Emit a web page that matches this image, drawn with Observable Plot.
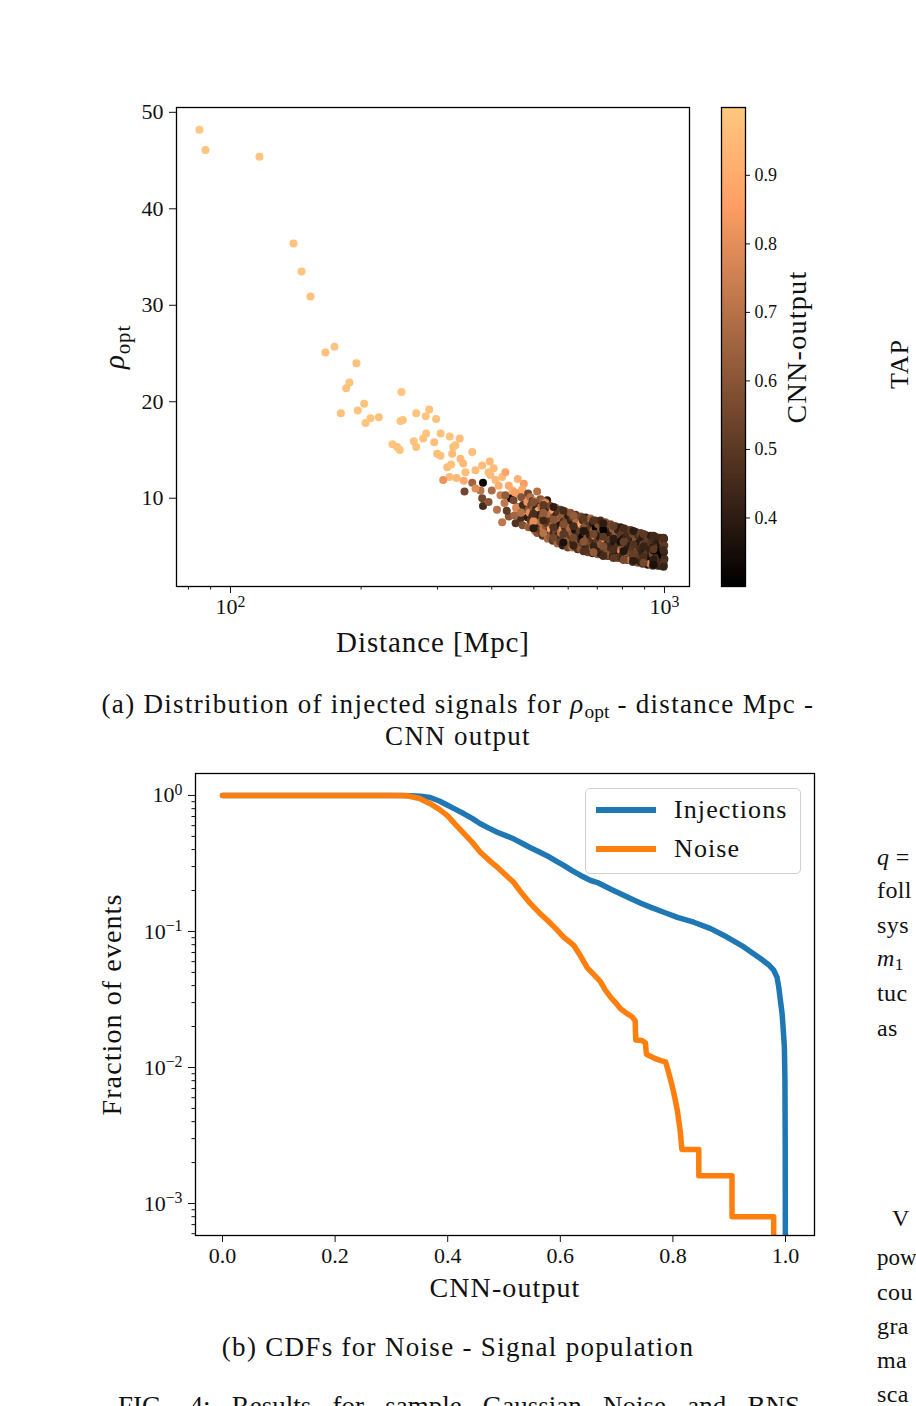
<!DOCTYPE html>
<html>
<head>
<meta charset="utf-8">
<script src="https://cdn.jsdelivr.net/npm/d3@7"></script>
<script src="https://cdn.jsdelivr.net/npm/@observablehq/plot@0.6"></script>
<style>
  html, body { margin: 0; padding: 0; background: #fff; }
  body { position: relative; width: 916px; height: 1406px; overflow: hidden;
         font-family: "Liberation Serif", "DejaVu Serif", serif; color: #111; }
  .abs { position: absolute; }
  .caption { position: absolute; left: 0; width: 916px; text-align: center;
             font-size: 27px; line-height: 32px; letter-spacing: 1.3px; white-space: nowrap; }
  .side { position: absolute; left: 877px; font-size: 24px; line-height: 32px; letter-spacing: 0.4px; white-space: nowrap; }
  .legend { position: absolute; border: 1px solid #d0d0d0; border-radius: 5px; background: rgba(255,255,255,0.8); }
  .swatch { position: absolute; height: 6px; width: 60px; }
  .legtext { position: absolute; font-size: 26px; line-height: 30px; letter-spacing: 1.1px; white-space: nowrap; }
  sub { font-size: 0.72em; vertical-align: -0.25em; line-height: 0; letter-spacing: 0; }
  .fig { position: absolute; left: 118px; width: 682px; top: 1390px; font-size: 27px; line-height: 32px;
         text-align: justify; text-align-last: justify; white-space: nowrap; }
</style>
</head>
<body>
<div id="scatter" class="abs" style="left:0;top:0"></div>
<div id="colorbar" class="abs" style="left:700px;top:0"></div>
<div id="cdf" class="abs" style="left:0;top:700px"></div>

<div class="caption" style="top:688px">(a) Distribution of injected signals for <i>ρ</i><sub>opt</sub> - distance Mpc -<br>CNN output</div>
<div class="caption" style="top:1331px">(b) CDFs for Noise - Signal population</div>
<div class="fig">FIG. 4: Results for sample Gaussian Noise and BNS</div>

<div class="abs" style="left:860px;top:351px;width:80px;text-align:center;font-size:26px;line-height:26px;letter-spacing:1px;transform:rotate(-90deg);transform-origin:40px 13px;">TAP</div>

<div class="legend" style="left:585px;top:788px;width:214px;height:84px">
  <div class="swatch" style="left:10px;top:18px;background:#1f77b4"></div>
  <div class="legtext" style="left:88px;top:6px">Injections</div>
  <div class="swatch" style="left:10px;top:57px;background:#ff7f0e"></div>
  <div class="legtext" style="left:88px;top:45px">Noise</div>
</div>

<div class="side" style="top:841px"><i>q</i> =</div>
<div class="side" style="top:874px">foll</div>
<div class="side" style="top:909px">sys</div>
<div class="side" style="top:942px"><i>m</i><sub>1</sub></div>
<div class="side" style="top:977px">tuc</div>
<div class="side" style="top:1012px">as</div>
<div class="side" style="top:1202px;left:892px">V</div>
<div class="side" style="top:1242px;font-size:23px;letter-spacing:0">pow</div>
<div class="side" style="top:1276px">cou</div>
<div class="side" style="top:1310px">gra</div>
<div class="side" style="top:1344px">ma</div>
<div class="side" style="top:1378px">sca</div>

<script>
// Injected signals: [luminosity distance (Mpc), optimal SNR rho_opt, CNN output]
const injectionPoints = [
  [84.8,48.2,0.999],[87.6,46.1,0.99],[116.6,45.4,0.99],[139.7,36.4,0.98],[145.8,33.5,0.99],
  [152.9,30.9,0.98],[165.5,25.1,0.98],[173.6,25.7,0.99],[195.1,24.0,0.98],[188.0,22.0,0.99],
  [184.8,21.4,0.98],[247.7,21.0,0.99],[203.3,19.8,0.98],[196.5,19.1,0.99],[179.6,18.8,0.98],
  [267.9,18.8,0.99],[287.1,19.2,0.98],[281.8,18.5,0.99],[297.8,18.2,0.98],[210.2,18.3,0.99],
  [219.7,18.4,0.98],[204.7,17.8,0.99],[249.5,18.1,0.98],[246.5,18.0,0.99],[304.9,16.7,0.98],
  [282.4,16.7,0.99],[278.0,16.2,0.98],[264.5,15.9,0.99],[267.9,15.3,0.98],[294.8,15.8,0.97],
  [320.1,16.4,0.98],[236.2,15.6,0.99],[242.2,15.3,0.98],[245.5,15.0,0.99],[299.4,14.6,0.97],
  [304.8,14.4,0.98],[326.0,15.3,0.97],[324.3,14.6,0.96],[315.8,13.2,0.97],[322.5,13.5,0.98],
  [319.6,12.2,0.96],[309.1,11.9,0.82],[337.5,16.2,0.97],[329.9,15.5,0.98],[338.8,14.1,0.96],
  [360.6,14.8,0.97],[343.7,13.6,0.95],[347.9,12.7,0.97],[380.2,13.4,0.96],[395.8,13.8,0.95],
  [366.9,12.9,0.96],[344.8,11.8,0.9],[381.8,11.6,0.32],[360.6,11.6,0.65],[346.1,10.7,0.55],
  [376.7,10.8,0.7],[397.2,12.4,0.95],[408.0,11.9,0.95],[422.7,12.2,0.97],[437.7,11.3,0.9],
  [459.2,12.0,0.93],[474.1,11.5,0.85],[441.7,10.0,0.33],[380.2,10.0,0.55],[381.8,9.2,0.45],
  [393.3,9.6,0.6],[411.3,8.8,0.7],[422.7,7.5,0.72],[437.7,8.1,0.6],[465.8,7.9,0.45],
  [491.2,7.4,0.75],[501.7,6.8,0.32],[482.7,8.8,0.55],[518.0,8.8,0.5],[536.6,9.8,0.4],
  [555.9,8.9,0.6],[566.0,7.7,0.55],[457.7,9.1,0.62],[491.2,10.0,0.65],[508.9,10.7,0.7],
  [393,12.7,0.97],[404,13.1,0.96],[415,11.3,0.92],[430,12.7,0.88],[446,10.8,0.9],
  [462,10.5,0.78],[485,9.8,0.8],[419,10.3,0.75],[400,10.8,0.68],[367,11.0,0.8],[332,12.1,0.95],
  [430,10.3,0.62],[428,9.5,0.72],[433,8.7,0.5],
  [452,10.6,0.85],[449,9.8,0.55],[455,9.0,0.78],[451,8.2,0.66],[454,7.4,0.48],
  [470,10.9,0.9],[468,10.1,0.6],[472,9.3,0.45],[467,8.5,0.7],[471,7.2,0.58],
  [485,10.5,0.55],[483,9.6,0.82],[487,8.8,0.62],[484,8.0,0.4],[486,7.0,0.66],
  [491,10.1,0.7],[493,9.3,0.55],[489,8.5,0.8],[492,7.7,0.5],[490,7.0,0.62],
  [497,9.7,0.5],[499,8.9,0.62],[496,8.1,0.44],[498,7.3,0.7],
  [504,9.7,0.88],[506,8.9,0.45],[502,8.1,0.66],[505,7.3,0.58],[503,6.6,0.75],
  [511,9.5,0.45],[513,8.7,0.9],[510,7.9,0.55],[512,7.1,0.4],[509,6.4,0.6],
  [518,9.9,0.6],[520,9.1,0.72],[516,8.3,0.4],[519,7.5,0.68],[517,6.7,0.52],
  [525,9.7,0.65],[527,8.9,0.48],[523,8.1,0.58],[526,6.9,0.72],[524,6.1,0.5],
  [532,9.5,0.78],[534,8.7,0.5],[530,7.9,0.85],[533,7.1,0.6],[531,6.3,0.44],
  [539,9.0,0.42],[541,8.2,0.65],[537,7.4,0.52],[540,6.5,0.4],[538,5.8,0.68],
  [546,9.2,0.55],[548,8.4,0.7],[544,7.6,0.48],[547,6.8,0.9],[545,6.0,0.62],
  [554,8.8,0.85],[556,8.0,0.55],[552,7.2,0.62],[555,6.4,0.45],[553,5.6,0.5],
  [561,9.0,0.66],[563,8.2,0.42],[559,7.4,0.74],[562,6.6,0.55],[560,5.8,0.6],
  [568,8.6,0.48],[570,7.8,0.7],[566,7.0,0.55],[569,6.1,0.4],[567,5.3,0.66],
  [576,8.8,0.5],[578,8.0,0.62],[574,7.2,0.38],[577,6.4,0.7],[575,5.5,0.52],
  [584,8.4,0.62],[586,7.6,0.45],[582,6.8,0.8],[585,5.9,0.52],[583,5.1,0.4],
  [592,8.6,0.72],[594,7.8,0.55],[590,7.0,0.45],[593,6.2,0.82],[591,5.3,0.48],
  [600,8.2,0.4],[602,7.4,0.58],[598,6.6,0.5],[601,5.7,0.65],[599,4.9,0.55],
  [607,8.5,0.6],[609,7.7,0.42],[605,6.9,0.66],[608,6.1,0.5],[606,5.1,0.58],
  [615,8.0,0.52],[617,7.2,0.38],[613,6.4,0.62],[616,5.5,0.45],[614,4.9,0.7],
  [624,8.3,0.48],[626,7.5,0.7],[622,6.7,0.35],[625,5.9,0.62],[623,5.0,0.45],
  [632,7.9,0.68],[634,7.0,0.5],[630,6.2,0.42],[633,5.4,0.58],[631,4.7,0.48],
  [641,8.1,0.55],[643,7.3,0.88],[639,6.5,0.5],[642,5.7,0.42],[640,4.8,0.6],
  [649,7.7,0.45],[651,6.9,0.55],[647,6.0,0.32],[650,5.2,0.5],[648,4.6,0.62],
  [658,8.0,0.42],[660,7.2,0.6],[656,6.4,0.45],[659,5.6,0.7],[657,4.7,0.38],
  [667,7.6,0.5],[669,6.7,0.42],[665,5.9,0.6],[668,5.0,0.46],[666,4.4,0.55],
  [675,7.9,0.65],[677,7.0,0.5],[673,6.2,0.4],[676,5.4,0.55],[674,4.6,0.48],
  [684,7.4,0.4],[686,6.6,0.62],[682,5.8,0.48],[685,4.9,0.82],[683,4.3,0.44],
  [693,7.7,0.52],[695,6.9,0.32],[691,6.1,0.78],[694,5.3,0.44],[692,4.5,0.55],
  [703,7.3,0.58],[705,6.4,0.45],[701,5.6,0.5],[704,4.8,0.4],[702,4.2,0.6],
  [712,7.7,0.45],[714,6.8,0.58],[710,6.0,0.4],[713,5.2,0.62],[711,4.3,0.42],
  [722,7.1,0.44],[724,6.3,0.52],[720,5.5,0.6],[723,4.6,0.45],[721,4.1,0.38],
  [731,7.5,0.6],[733,6.6,0.45],[729,5.8,0.85],[732,5.0,0.38],[730,4.2,0.5],
  [741,7.0,0.5],[743,6.1,0.35],[739,5.3,0.45],[742,4.5,0.58],[740,4.0,0.48],
  [751,7.3,0.55],[753,6.5,0.4],[749,5.7,0.52],[752,4.9,0.45],[750,4.1,0.6],
  [761,6.8,0.62],[763,6.0,0.48],[759,5.2,0.42],[762,4.4,0.5],[760,3.9,0.4],
  [771,7.1,0.48],[773,6.3,0.62],[769,5.5,0.36],[772,4.7,0.5],[770,4.0,0.42],
  [781,6.7,0.42],[783,5.9,0.55],[779,5.0,0.48],[782,4.3,0.4],[780,3.8,0.56],
  [792,7.0,0.4],[794,6.2,0.5],[790,5.4,0.45],[793,4.6,0.8],[791,3.9,0.48],
  [802,6.6,0.5],[804,5.8,0.38],[800,4.9,0.6],[803,4.2,0.45],[801,3.7,0.42],
  [813,6.8,0.58],[815,6.0,0.42],[811,5.2,0.55],[814,4.5,0.38],[812,3.8,0.5],
  [824,6.4,0.45],[826,5.6,0.52],[822,4.8,0.4],[825,4.0,0.62],[823,3.6,0.46],
  [835,6.7,0.5],[837,5.9,0.45],[833,5.1,0.4],[836,4.3,0.55],[834,3.6,0.72],
  [846,6.3,0.55],[848,5.5,0.42],[844,4.7,0.5],[847,3.9,0.44],[845,3.4,0.5],
  [858,6.5,0.42],[860,5.7,0.6],[856,4.9,0.48],[859,4.2,0.36],[857,3.5,0.45],
  [869,6.1,0.48],[871,5.3,0.36],[867,4.6,0.56],[870,3.8,0.48],[868,3.3,0.62],
  [881,6.4,0.52],[883,5.6,0.4],[879,4.8,0.45],[882,4.1,0.5],[880,3.4,0.42],
  [892,6.0,0.4],[894,5.2,0.55],[890,4.4,0.42],[893,3.7,0.5],[891,3.2,0.45],
  [904,6.2,0.45],[906,5.4,0.5],[902,4.7,0.38],[905,4.0,0.58],[903,3.3,0.4],
  [916,5.9,0.52],[918,5.0,0.44],[914,4.3,0.5],[917,3.6,0.4],[915,3.1,0.38],
  [929,6.1,0.4],[931,5.3,0.48],[927,4.6,0.42],[930,3.9,0.35],[928,3.2,0.78],
  [941,5.8,0.45],[943,4.9,0.38],[939,4.2,0.55],[942,3.5,0.44],[940,3.0,0.5],
  [954,6.0,0.5],[956,5.2,0.42],[952,4.5,0.46],[955,3.8,0.4],[953,3.1,0.44],
  [966,5.7,0.4],[968,4.9,0.5],[964,4.1,0.44],[967,3.4,0.52],[965,3.0,0.46],
  [979,5.9,0.44],[981,5.2,0.38],[977,4.5,0.32],[980,3.8,0.48],[978,3.0,0.42],
  [990,5.5,0.5],[992,4.8,0.42],[988,4.1,0.3],[991,3.4,0.4],[989,3.1,0.48],
  [998,5.8,0.42],[999,5.1,0.5],[997,4.4,0.4],[1000,3.7,0.45],[996,3.0,0.4],
  [944,4.6,0.31],[723,6.7,0.31],[792,5.5,0.35],
  [499,9.6,0.58],[499,8.4,0.46],[499,7.6,0.8],[499,6.9,0.4],
  [526,9.3,0.5],[526,8.5,0.62],[526,7.7,0.44],[526,6.4,0.7],
  [555,9.1,0.4],[555,7.8,0.6],[555,7.0,0.48],[555,5.9,0.55],
  [585,8.7,0.45],[585,7.3,0.58],[585,6.3,0.5],[585,5.4,0.36],
  [617,8.2,0.62],[617,7.1,0.45],[617,5.9,0.55],[617,5.1,0.42],
  [651,7.9,0.5],[651,6.6,0.38],[651,5.5,0.6],[651,4.5,0.48],
  [686,7.7,0.48],[686,6.3,0.55],[686,5.0,0.42],[686,4.4,0.62],
  [723,7.4,0.4],[723,6.0,0.5],[723,5.0,0.58],[723,4.0,0.45],
  [763,7.1,0.52],[763,5.8,0.4],[763,4.7,0.46],[763,3.8,0.5],
  [805,6.9,0.45],[805,5.5,0.52],[805,4.5,0.38],[805,3.6,0.56],
  [848,6.6,0.4],[848,5.2,0.48],[848,4.2,0.52],[848,3.5,0.4],
  [895,6.3,0.5],[895,5.0,0.42],[895,3.9,0.46],[895,3.3,0.55],
  [943,6.1,0.44],[943,4.7,0.5],[943,3.6,0.4],[943,3.1,0.36],
  [995,5.9,0.46],[995,4.6,0.44],[995,3.3,0.48],[995,2.9,0.42]
];

// Survival fractions (fraction of events with CNN output above threshold)
const injectionCdf = [
  [0.0,1.0],[0.32,1.0],[0.334,0.995],[0.352,0.985],[0.369,0.965],[0.385,0.91],[0.399,0.85],
  [0.414,0.79],[0.429,0.733],[0.444,0.675],[0.458,0.619],[0.473,0.575],[0.488,0.537],
  [0.503,0.507],[0.517,0.48],[0.532,0.445],[0.547,0.413],[0.562,0.385],[0.577,0.359],
  [0.592,0.33],[0.606,0.306],[0.621,0.28],[0.636,0.258],[0.654,0.237],[0.666,0.229],
  [0.689,0.205],[0.719,0.179],[0.742,0.162],[0.760,0.151],[0.785,0.138],[0.808,0.127],
  [0.837,0.117],[0.867,0.105],[0.896,0.091],[0.926,0.077],[0.956,0.063],[0.970,0.057],
  [0.979,0.052],[0.985,0.046],[0.988,0.039],[0.991,0.031],[0.994,0.0248],[0.996,0.019],
  [0.998,0.0141],[0.999,0.008],[0.9995,0.0026],[1.0,0.0001]
];
const noiseCdf = [
  [0.0,1.0],[0.30,1.0],[0.328,0.995],[0.35,0.95],[0.369,0.87],[0.385,0.79],[0.399,0.713],
  [0.414,0.61],[0.429,0.523],[0.444,0.45],[0.458,0.383],[0.473,0.335],[0.488,0.297],
  [0.503,0.26],[0.517,0.23],[0.532,0.19],[0.547,0.16],[0.562,0.138],[0.577,0.121],
  [0.592,0.105],[0.606,0.091],[0.624,0.079],[0.636,0.066],[0.648,0.054],[0.660,0.048],
  [0.671,0.043],[0.680,0.037],[0.689,0.033],[0.698,0.030],[0.707,0.027],[0.718,0.025],
  [0.728,0.0235],[0.733,0.022],[0.734,0.0159],[0.745,0.0158],[0.751,0.0152],[0.753,0.0125],
  [0.769,0.0116],[0.780,0.0112],[0.787,0.011],[0.793,0.009],[0.798,0.0075],[0.802,0.0064],
  [0.808,0.0048],[0.813,0.0034],[0.816,0.0025],[0.846,0.0025],[0.846,0.0016],[0.905,0.0016],
  [0.905,0.0008],[0.979,0.0008],[0.979,0.00001]
];

// Axis ticks
const distanceMajorTicks = [100, 1000];
const distanceMinorTicks = [80, 90, 200, 300, 400, 500, 600, 700, 800, 900];
const rhoTicks = [10, 20, 30, 40, 50];
const colorbarTicks = [0.4, 0.5, 0.6, 0.7, 0.8, 0.9];
const cnnTicks = [0, 0.2, 0.4, 0.6, 0.8, 1.0];
const fractionMajorTicks = [1, 0.1, 0.01, 0.001];
const fractionMinorTicks = [0.0006, 0.0007, 0.0008, 0.0009,
  0.002, 0.003, 0.004, 0.005, 0.006, 0.007, 0.008, 0.009,
  0.02, 0.03, 0.04, 0.05, 0.06, 0.07, 0.08, 0.09,
  0.2, 0.3, 0.4, 0.5, 0.6, 0.7, 0.8, 0.9];

const FONT = "Liberation Serif, DejaVu Serif, serif";
const INK = "#111";
const SVGNS = "http://www.w3.org/2000/svg";
const pow10 = d => `10^${String(Math.round(Math.log10(d))).replace("-", "\u2212")}`;

// "10^2" -> superscript, "ρ_opt" -> italic base with subscript
function richText(svg) {
  for (const t of svg.querySelectorAll("text")) {
    const s = t.textContent;
    let m;
    if ((m = s.match(/^(.*)\^(.+)$/))) {
      t.textContent = m[1];
      const sp = document.createElementNS(SVGNS, "tspan");
      sp.setAttribute("dy", "-0.45em");
      sp.setAttribute("font-size", "0.72em");
      sp.textContent = m[2];
      t.appendChild(sp);
    } else if ((m = s.match(/^(.*)_(.+)$/))) {
      t.textContent = "";
      const b = document.createElementNS(SVGNS, "tspan");
      b.setAttribute("font-style", "italic");
      b.textContent = m[1];
      const sb = document.createElementNS(SVGNS, "tspan");
      sb.setAttribute("dy", "0.3em");
      sb.setAttribute("font-size", "0.72em");
      sb.textContent = m[2];
      t.appendChild(b); t.appendChild(sb);
    }
  }
}
function labelStyle(svg, px, spacing) {
  for (const g of svg.querySelectorAll('g[aria-label$="axis label"]')) {
    g.style.fontSize = px + "px";
    g.style.letterSpacing = spacing + "px";
  }
}

const rows = injectionPoints.map(([d, rho, cnn]) => ({d, rho, cnn}));
const [lo, hi] = d3.extent(rows, r => r.cnn);
// matplotlib "copper": red saturates at 80% of the range
const copper = {type: "linear", domain: [lo, lo + 0.8 * (hi - lo), hi],
  range: ["#000000", "#ff9f65", "#ffc77f"], interpolate: "rgb"};

// (a) rho_opt vs distance, coloured by CNN output
const scatter = Plot.plot({
  width: 700, height: 680,
  marginLeft: 176, marginRight: 11, marginTop: 107, marginBottom: 94,
  style: {fontFamily: FONT, fontSize: "22px", color: INK, background: "transparent", overflow: "visible"},
  x: {type: "log", domain: [75.1, 1142]},
  y: {domain: [0.85, 50.5]},
  color: copper,
  marks: [
    Plot.dot(rows, {x: "d", y: "rho", fill: "cnn", r: 4}),
    Plot.frame({stroke: "#000", strokeWidth: 1.3}),
    Plot.axisX({ticks: distanceMinorTicks, tickSize: 3.5, tickFormat: () => "", label: null}),
    Plot.axisX({ticks: distanceMajorTicks, tickSize: 7, tickPadding: 5, tickFormat: pow10,
      label: "Distance [Mpc]", labelAnchor: "center", labelOffset: 65, labelArrow: "none"}),
    Plot.axisY({ticks: rhoTicks, tickSize: 7, tickPadding: 6, tickFormat: d => String(d),
      label: "ρ_opt", labelAnchor: "center", labelOffset: 73, labelArrow: "none"})
  ]
});
richText(scatter);
labelStyle(scatter, 29, 0.9);
document.getElementById("scatter").appendChild(scatter);

// colour bar
const cbStep = (hi - lo) / 200;
const colorbarStops = d3.range(lo, hi, cbStep);
const colorbar = Plot.plot({
  width: 130, height: 680,
  marginLeft: 21, marginRight: 85, marginTop: 107, marginBottom: 94,
  style: {fontFamily: FONT, fontSize: "18px", color: INK, background: "transparent", overflow: "visible"},
  y: {domain: [lo, hi]},
  color: copper,
  marks: [
    Plot.rect(colorbarStops, {y1: d => d, y2: d => Math.min(hi, d + cbStep * 1.8), fill: d => d + cbStep / 2}),
    Plot.frame({stroke: "#000", strokeWidth: 1.3}),
    Plot.axisY({anchor: "right", ticks: colorbarTicks, tickSize: 4, tickPadding: 5, tickFormat: ".1f",
      label: "CNN-output", labelAnchor: "center", labelOffset: 60, labelArrow: "none"})
  ]
});
labelStyle(colorbar, 28, 1.3);
document.getElementById("colorbar").appendChild(colorbar);

// (b) survival curves for injections and noise
const cdf = Plot.plot({
  width: 916, height: 620,
  marginLeft: 195, marginRight: 102, marginTop: 73, marginBottom: 85,
  style: {fontFamily: FONT, fontSize: "22px", color: INK, background: "transparent", overflow: "visible"},
  x: {domain: [-0.048, 1.0515]},
  y: {type: "log", domain: [5.82e-4, 1.45]},
  marks: [
    Plot.line(injectionCdf, {x: d => d[0], y: d => d[1], stroke: "#1f77b4", strokeWidth: 5.5, clip: true}),
    Plot.line(noiseCdf, {x: d => d[0], y: d => d[1], stroke: "#ff7f0e", strokeWidth: 5.5, clip: true}),
    Plot.frame({stroke: "#000", strokeWidth: 1.3}),
    Plot.axisX({ticks: cnnTicks, tickSize: 7, tickPadding: 5, tickFormat: ".1f",
      label: "CNN-output", labelAnchor: "center", labelOffset: 61, labelArrow: "none"}),
    Plot.axisY({ticks: fractionMinorTicks, tickSize: 3.5, tickFormat: () => "", label: null}),
    Plot.axisY({ticks: fractionMajorTicks, tickSize: 7, tickPadding: 6, tickFormat: pow10,
      label: "Fraction of events", labelAnchor: "center", labelOffset: 94, labelArrow: "none"})
  ]
});
richText(cdf);
labelStyle(cdf, 28, 1.1);
document.getElementById("cdf").appendChild(cdf);
</script>
</body>
</html>
